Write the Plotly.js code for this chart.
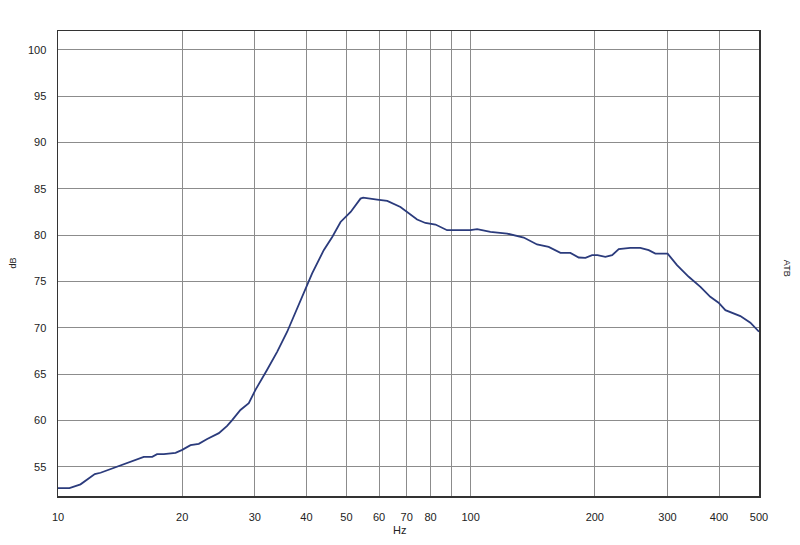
<!DOCTYPE html>
<html>
<head>
<meta charset="utf-8">
<script src="https://cdn.plot.ly/plotly-3.0.1.min.js"></script>
<style>html,body{margin:0;padding:0;background:#fff;}#chart{width:800px;height:545px;}</style>
</head>
<body>
<div id="chart"></div>
<script>
const freqHz = [10, 10.66, 11.34, 12.28, 12.68, 13.65, 14.72, 16.14, 16.92, 17.38, 18.05, 19.27, 20, 20.95, 21.94, 22.99, 24.54, 25.7, 26.4, 27.68, 29.0, 30.1, 32.1, 33.97, 35.93, 37.98, 40.17, 41.3, 44.06, 46.2, 48.4, 51.2, 54.1, 54.9, 59.35, 62.8, 67.6, 70.2, 74.2, 77.7, 82.2, 87.7, 99.9, 103.7, 111.7, 122.6, 134.5, 144.9, 154.6, 165.1, 174.5, 182.8, 189.8, 197, 203, 212.1, 220.3, 228.6, 243.8, 257.8, 270.2, 280.4, 300.3, 316.4, 337.8, 360.6, 381, 399, 414.5, 450.6, 476.5, 500];
const levelDb = [52.7, 52.7, 53.1, 54.2, 54.35, 54.9, 55.45, 56.07, 56.07, 56.35, 56.35, 56.5, 56.82, 57.33, 57.47, 58.0, 58.62, 59.4, 60.0, 61.13, 61.85, 63.29, 65.44, 67.4, 69.57, 72.1, 74.6, 75.86, 78.37, 79.8, 81.42, 82.5, 83.94, 84.05, 83.84, 83.7, 83.04, 82.5, 81.68, 81.31, 81.14, 80.53, 80.53, 80.64, 80.35, 80.17, 79.74, 78.99, 78.73, 78.08, 78.08, 77.58, 77.54, 77.83, 77.83, 77.65, 77.83, 78.48, 78.62, 78.62, 78.37, 78.0, 78.0, 76.76, 75.5, 74.42, 73.34, 72.7, 71.9, 71.26, 70.54, 69.57];
const xGrid = [10, 20, 30, 40, 50, 60, 70, 80, 90, 100, 200, 300, 400, 500];
const xTickText = ['10', '20', '30', '40', '50', '60', '70', '80', '', '100', '200', '300', '400', '500'];
const yTicks = [55, 60, 65, 70, 75, 80, 85, 90, 95, 100];

const font = {family: 'Liberation Sans, Arial, sans-serif', size: 11, color: '#222'};
const data = [{
  x: freqHz, y: levelDb, type: 'scatter', mode: 'lines',
  line: {color: '#2b3b7c', width: 1.8},
  hoverinfo: 'skip'
}];
const layout = {
  width: 800, height: 545,
  margin: {l: 57.5, r: 41.3, t: 30.5, b: 48.7},
  paper_bgcolor: '#fff', plot_bgcolor: '#fff',
  showlegend: false,
  font: font,
  xaxis: {
    type: 'log', range: [1, Math.log10(500)],
    tickvals: xGrid, ticktext: xTickText,
    showgrid: true, gridcolor: '#8c8c8c', gridwidth: 1,
    showline: true, linecolor: '#333', linewidth: 1.5, mirror: true,
    ticks: '', ticklabelstandoff: 10, zeroline: false,
    tickfont: font
  },
  yaxis: {
    range: [51.84, 102.03],
    tickvals: yTicks,
    showgrid: true, gridcolor: '#8c8c8c', gridwidth: 1,
    showline: true, linecolor: '#333', linewidth: 1.5, mirror: true,
    ticks: '', ticklabelstandoff: 8, zeroline: false,
    tickfont: font
  },
  annotations: [
    {text: 'Hz', xref: 'paper', yref: 'paper', x: (399 - 57.5) / 701.2, y: -(530.7 - 496.3) / 465.8, showarrow: false, font: font, xanchor: 'center', yanchor: 'middle'},
    {text: 'dB', xref: 'paper', yref: 'paper', x: (13 - 57.5) / 701.2, y: 1 - (263 - 30.5) / 465.8, showarrow: false, font: {family: font.family, size: 9, color: '#222'}, textangle: -90, xanchor: 'center', yanchor: 'middle'},
    {text: 'ATB', xref: 'paper', yref: 'paper', x: (787 - 57.5) / 701.2, y: 1 - (268 - 30.5) / 465.8, showarrow: false, font: {family: font.family, size: 9, color: '#222'}, textangle: 90, xanchor: 'center', yanchor: 'middle'}
  ]
};
Plotly.newPlot('chart', data, layout, {displayModeBar: false, staticPlot: true});
</script>
</body>
</html>
